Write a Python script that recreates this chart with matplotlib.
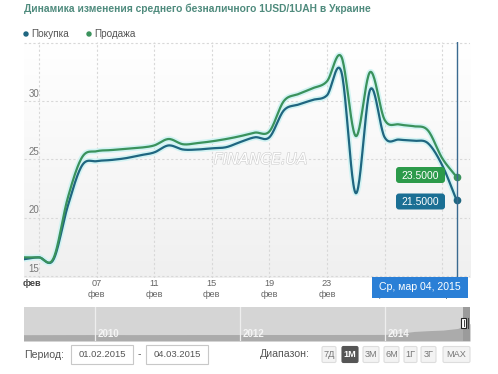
import numpy as np
import matplotlib
matplotlib.use("Agg")
import matplotlib.pyplot as plt
from matplotlib.patches import FancyBboxPatch, Rectangle, Circle
import matplotlib.patheffects as pe

plt.rcParams['font.family'] = ['Liberation Sans', 'DejaVu Sans']

# ---------------- data ----------------
title = "Динамика изменения среднего безналичного 1USD/1UAH в Украине"
series_names = ["Покупка", "Продажа"]
# day index: 1 = 01 Feb 2015, 29 = 01 Mar 2015
days = list(range(2, 33))
buy = [16.45, 16.6, 16.4, 21.0, 24.5, 24.85, 24.95, 25.1, 25.35, 25.6, 26.2,
       25.85, 25.85, 25.95, 26.05, 26.5, 26.9, 26.9, 29.2, 29.7, 30.1, 30.5,
       32.5, 22.1, 31.0, 26.9, 26.7, 26.6, 26.4, 24.5, 21.5]
sell = [16.6, 16.6, 16.5, 21.7, 25.2, 25.7, 25.8, 25.9, 26.0, 26.2, 26.75,
        26.3, 26.4, 26.55, 26.75, 27.0, 27.3, 27.4, 30.0, 30.6, 31.1, 31.7,
        33.8, 27.0, 32.5, 28.4, 28.0, 27.85, 27.5, 25.1, 23.5]
xtick_days = [7, 11, 15, 19, 23, 27, 31]
xtick_labels = ["07\nфев", "11\nфев", "15\nфев", "19\nфев", "23\nфев", "27\nфев", "03\nмар"]
yticks = [15, 20, 25, 30]
tooltip_text = "Ср, мар 04, 2015"
last_labels = ["21.5000", "23.5000"]

nav_years = [2009.0, 2009.5, 2010.0, 2010.5, 2011.0, 2011.5, 2012.0, 2012.5,
             2013.0, 2013.5, 2014.0, 2014.2, 2014.4, 2014.6, 2014.8, 2015.0, 2015.17]
nav_values = [7.8, 7.9, 7.95, 7.9, 7.95, 7.98, 7.99, 8.0, 8.0, 8.05, 8.1,
              9.5, 11.8, 12.8, 13.5, 15.5, 21.5]
nav_year_labels = [2010, 2012, 2014]
period_from, period_to = "01.02.2015", "04.03.2015"
range_buttons = ["7Д", "1M", "3M", "6M", "1Г", "3Г", "MAX"]
active_button = "1M"

GREEN = "#3a925c"
BLUE = "#1f6680"

W, H = 498, 374
fig = plt.figure(figsize=(W / 100, H / 100), dpi=100)
fig.patch.set_facecolor("white")


def rect(x0, y0, x1, y1):
    return [x0 / W, 1 - y1 / H, (x1 - x0) / W, (y1 - y0) / H]


def spline(xs, ys, n=24):
    xs = np.asarray(xs, float); ys = np.asarray(ys, float)
    ox, oy = [], []
    for i in range(len(xs) - 1):
        i0, i3 = max(i - 1, 0), min(i + 2, len(xs) - 1)
        p0, p1, p2, p3 = ys[i0], ys[i], ys[i + 1], ys[i3]
        t = np.linspace(0, 1, n, endpoint=False)
        m1 = (p2 - p0) / (xs[i + 1] - xs[i0]) * (xs[i + 1] - xs[i]) if i0 != i else (p2 - p1)
        m2 = (p3 - p1) / (xs[i3] - xs[i]) * (xs[i + 1] - xs[i]) if i3 != i + 1 else (p2 - p1)
        h00 = 2 * t**3 - 3 * t**2 + 1; h10 = t**3 - 2 * t**2 + t
        h01 = -2 * t**3 + 3 * t**2; h11 = t**3 - t**2
        ox.append(xs[i] + t * (xs[i + 1] - xs[i]))
        oy.append(h00 * p1 + h10 * m1 + h01 * p2 + h11 * m2)
    ox.append([xs[-1]]); oy.append([ys[-1]])
    return np.concatenate(ox), np.concatenate(oy)


# ---------------- main axes ----------------
ax = fig.add_axes(rect(24, 42, 470, 278))
x0, x1 = 1.96, 32.93
y0, y1 = 14.83, 35.07
ax.set_xlim(x0, x1); ax.set_ylim(y0, y1)
grad = np.linspace(1, 0, 100).reshape(-1, 1)
ax.imshow(grad, extent=[x0, x1, y0, y1], aspect='auto', cmap=matplotlib.colors.LinearSegmentedColormap.from_list(
    "g", ["#f0f0f0", "#ffffff"]), vmin=0, vmax=1, zorder=0, origin='upper')
for s in ax.spines.values():
    s.set_visible(False)
for v in [15, 20, 25, 30, 35]:
    ax.axhline(v, color="#d8d8d8", lw=0.8, ls=(0, (2, 2)), zorder=1)
for d in [3] + xtick_days:
    ax.axvline(d, color="#d8d8d8", lw=0.8, ls=(0, (2, 2)), zorder=1)
ax.set_yticks([])
ax.set_xticks(xtick_days)
ax.set_xticklabels(xtick_labels, fontsize=6.6, color="#666666", linespacing=1.25)
ax.tick_params(axis='x', length=0, pad=1)
for v in yticks:
    ax.text(0.01, v + 0.2, str(v), transform=ax.get_yaxis_transform(), ha='left', va='bottom',
            fontsize=7, color="#777777")

ax.text(0.53, 25.0, "FINANCE.UA", transform=ax.get_yaxis_transform(), fontsize=11,
        fontstyle='italic', family='DejaVu Sans', color='white', ha='center', va='center',
        path_effects=[pe.withStroke(linewidth=0.9, foreground="#d0d0d0")], zorder=2)

for vals, col in [(buy, BLUE), (sell, GREEN)]:
    sx, sy = spline(days, vals)
    ax.plot(sx, sy, color="#d2f3f3", lw=4.0, solid_capstyle='round', zorder=3)
for vals, col in [(buy, BLUE), (sell, GREEN)]:
    sx, sy = spline(days, vals)
    ax.plot(sx, sy, color=col, lw=1.6, zorder=4)
    ax.plot([days[-1]], [vals[-1]], 'o', color=col, ms=4.5, zorder=5)
ax.axvline(days[-1], color="#3a6a90", lw=1.0, zorder=6)

# ---------------- navigator ----------------
nav = fig.add_axes(rect(24, 307, 470, 341))
nav.set_xlim(2009.02, 2015.17); nav.set_ylim(0, 42)
nav.set_facecolor("#d5d5d5")
nav.fill_between(nav_years, 0, nav_values, color="#ababab", lw=0)
nav.axvspan(2015.08, 2015.17, color="#9b9b9b", lw=0)
for yr in nav_year_labels:
    nav.axvline(yr, color="#eeeeee", lw=0.9)
    nav.text(yr + 0.03, 3, str(yr), color="#f4f4f4", fontsize=7, fontweight='bold', va='bottom', ha='left')
nav.set_xticks([]); nav.set_yticks([])
for s in nav.spines.values():
    s.set_visible(False)

# ---------------- overlay (pixel coords) ----------------
ov = fig.add_axes([0, 0, 1, 1], zorder=10)
ov.set_xlim(0, W); ov.set_ylim(H, 0); ov.axis('off'); ov.patch.set_alpha(0)

ov.text(24, 9, title, fontsize=7.4, fontweight='bold', color="#4f8b7d", ha='left', va='center')
ov.add_patch(Circle((26, 34), 2.0, color=BLUE))
ov.text(31, 34, series_names[0], fontsize=7.2, color="#555555", va='center', ha='left')
ov.add_patch(Circle((89, 34), 2.0, color=GREEN))
ov.text(94, 34, series_names[1], fontsize=7.2, color="#555555", va='center', ha='left')

ov.text(23, 283, "фев", fontsize=6.6, color="#444444", fontweight='bold', ha='left', va='center')

# value labels
for (cy, col, txt) in [(175, "#2c9a4a", last_labels[1]), (201.5, "#1b6f94", last_labels[0])]:
    ov.add_patch(FancyBboxPatch((396, cy - 8), 49, 16, boxstyle="round,pad=0,rounding_size=3",
                                fc=col, ec='none'))
    ov.text(420.5, cy + 0.5, txt, color='white', fontsize=7.5, ha='center', va='center')

# tooltip
ov.add_patch(Rectangle((372, 277), 96, 21, fc="#2a7fd6", ec='none'))
ov.text(420, 287.5, tooltip_text, color='white', fontsize=7.6, ha='center', va='center')

# navigator handle
ov.add_patch(Rectangle((461, 318), 5, 10, fc='white', ec='#222222', lw=0.8))
ov.plot([463.5, 463.5], [320, 326], color='#222222', lw=0.6)
ov.plot([468, 468], [318, 328], color='#444444', lw=0.8)

# period inputs
ov.text(24, 354.5, "Период:", fontsize=7.6, color="#555555", ha='left', va='center')
ov.add_patch(Rectangle((71, 345), 62, 19, fc='white', ec='#c8c8c8', lw=0.8))
ov.text(102, 354.5, period_from, fontsize=6.8, color="#555555", ha='center', va='center')
ov.text(139, 354, "-", fontsize=7.5, color="#555555", ha='center', va='center')
ov.add_patch(Rectangle((146, 345), 62, 19, fc='white', ec='#c8c8c8', lw=0.8))
ov.text(177, 354.5, period_to, fontsize=6.8, color="#555555", ha='center', va='center')

ov.text(260, 354, "Диапазон:", fontsize=7.6, color="#555555", ha='left', va='center')
btn_x = [322, 342, 363, 384, 404, 421, 443]
btn_w = [14, 16, 16, 15, 13, 15, 27]
for bx, bw, lab in zip(btn_x, btn_w, range_buttons):
    active = lab == active_button
    ov.add_patch(FancyBboxPatch((bx, 346.5), bw, 16, boxstyle="round,pad=0,rounding_size=1.5",
                                fc="#555555" if active else "#f3f3f3",
                                ec="#555555" if active else "#dddddd", lw=0.8))
    ov.text(bx + bw / 2, 354.5, lab, fontsize=6.6, color='white' if active else "#777777",
            fontweight='bold' if active else 'normal', ha='center', va='center')

fig.savefig("out.png", dpi=100, facecolor='white')
